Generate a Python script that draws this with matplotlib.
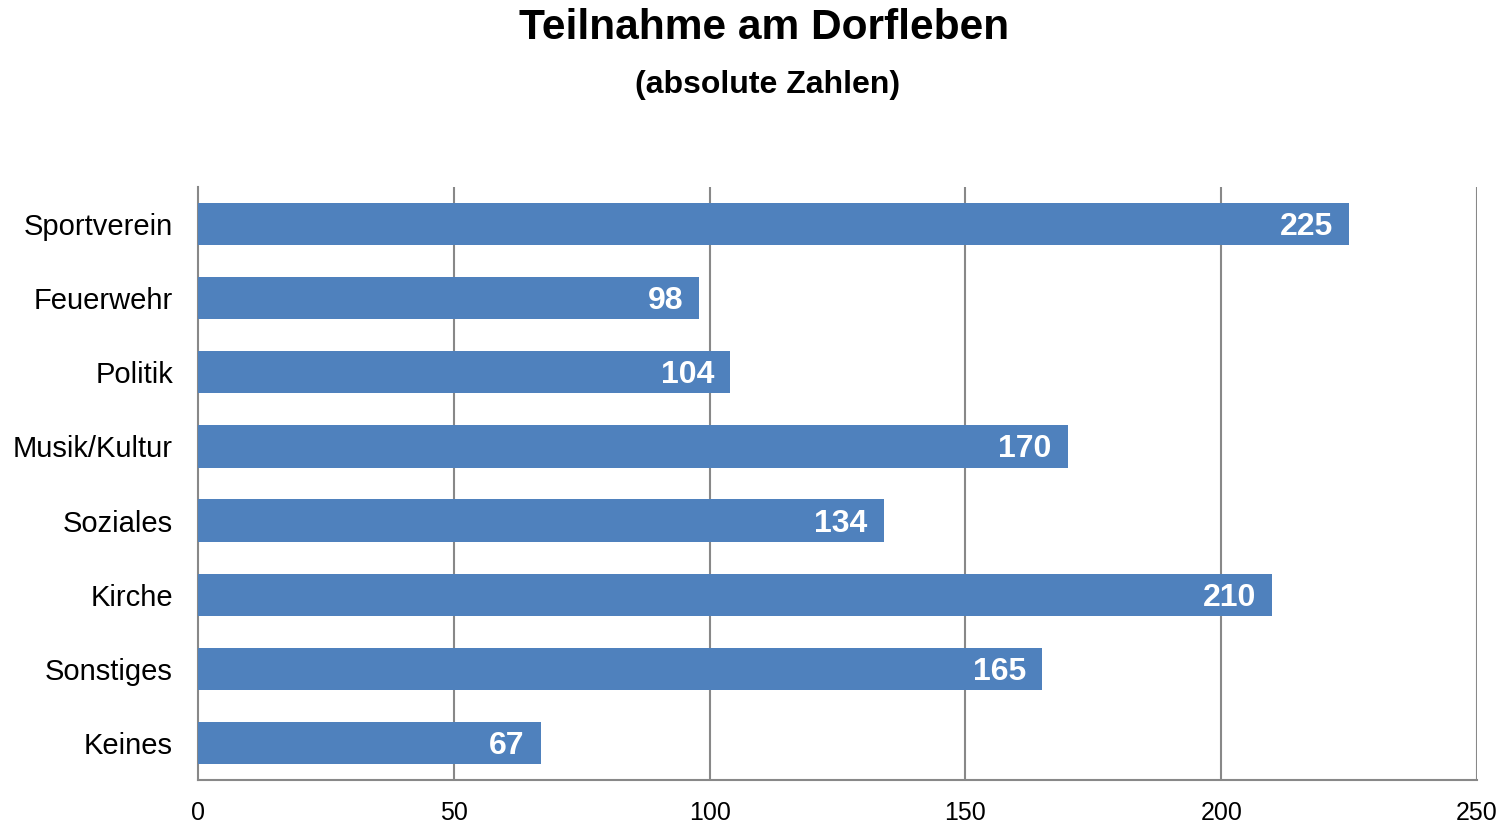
import matplotlib
matplotlib.use("Agg")
import matplotlib.pyplot as plt

categories = ["Sportverein", "Feuerwehr", "Politik", "Musik/Kultur", "Soziales", "Kirche", "Sonstiges", "Keines"]
values = [225, 98, 104, 170, 134, 210, 165, 67]
xticks = [0, 50, 100, 150, 200, 250]

plt.rcParams['font.family'] = ['Liberation Sans', 'DejaVu Sans']

fig = plt.figure(figsize=(15.08, 8.24), dpi=100)
ax = fig.add_axes([198/1508, 1-780/824, (1477-198)/1508, (780-187)/824])

y = list(range(len(categories)))
bars = ax.barh(y, values, height=0.57, color="#4F81BD", zorder=3)
ax.set_ylim(len(categories) - 0.5, -0.5)
ax.set_xlim(0, 250)
ax.set_yticks(y)
ax.set_yticklabels(categories, fontsize=21)
ax.set_xticks(xticks)
ax.set_xticklabels([str(t) for t in xticks], fontsize=18)
ax.tick_params(axis='y', length=0, pad=18)
ax.tick_params(axis='x', length=0, pad=15)

for x in xticks[1:]:
    ax.axvline(x, color="#888888", lw=1.5, zorder=1)
for s in ["top", "right"]:
    ax.spines[s].set_visible(False)
for s in ["left", "bottom"]:
    ax.spines[s].set_color("#888888")
    ax.spines[s].set_linewidth(1.5)

for yi, v in zip(y, values):
    ax.annotate(str(v), xy=(v, yi), xytext=(-11.5, -2.2), textcoords="offset points",
                ha="right", va="center", color="white", fontsize=23, fontweight="bold", zorder=4)

fig.text(0.5065, 1-28/824, "Teilnahme am Dorfleben", ha="center", va="center", fontsize=30.6, fontweight="bold")
fig.text(0.509, 1-85/824, "(absolute Zahlen)", ha="center", va="center", fontsize=23, fontweight="bold")

fig.savefig("out.png", dpi=100)
